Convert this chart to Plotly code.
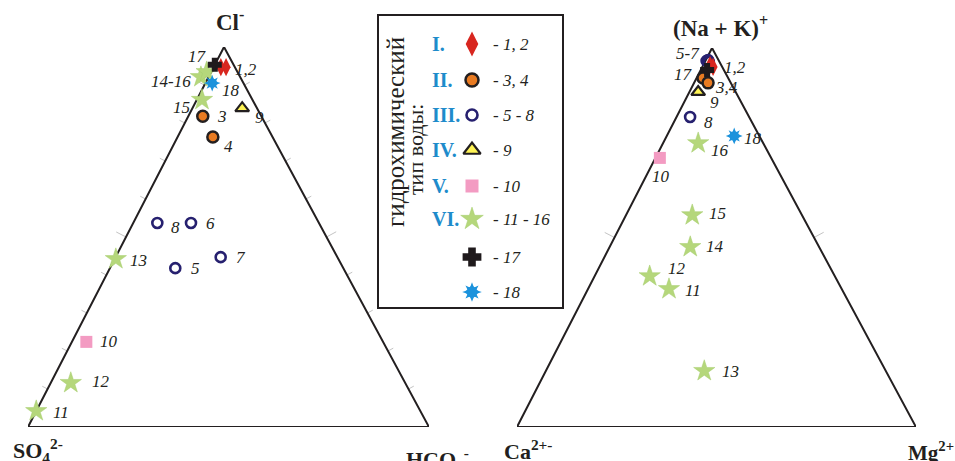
import math
import plotly.graph_objects as go

FIG_W, FIG_H = 955, 461

# ---------------- data (percent-equivalents) ----------------
sample_ids = ['1', '2', '3', '4', '5', '6', '7', '8', '9', '10',
              '11', '12', '13', '14', '15', '16', '17', '18']
sample_type = ['I', 'I', 'II', 'II', 'III', 'III', 'III', 'III', 'IV', 'V',
               'VI', 'VI', 'VI', 'VI', 'VI', 'VI', '17', '18']

# Anion triangle: Cl- (top), HCO3- (right), SO4 2- (left) = remainder
cl_pct = [94.7, 94.7, 81.8, 76.3, 41.8, 53.7, 44.7, 53.7, 83.9, 22.4,
          4.2, 11.6, 44.2, 92.1, 86.1, 93.4, 95.3, 90.5]
hco3_pct = [1.8, 3.1, 3.6, 8.8, 16.3, 14.4, 26.2, 6.0, 12.4, 3.6,
            0.0, 5.0, 0.3, -1.9, 1.3, -1.1, 0.0, 1.7]
so4_pct = [100 - a - b for a, b in zip(cl_pct, hco3_pct)]

# Cation triangle: (Na+K)+ (top), Mg2+ (right), Ca2+ (left) = remainder
nak_pct = [95.5, 95.0, 92.1, 90.8, 96.8, 96.3, 96.6, 81.8, 88.4, 71.0,
           36.4, 39.8, 14.8, 47.5, 55.9, 74.9, 94.2, 76.8]
mg_pct = [1.7, 2.7, 1.6, 3.5, 0.6, 1.0, 0.3, 3.4, 2.2, 1.1,
          20.3, 13.8, 39.7, 20.2, 16.6, 8.8, 1.6, 16.9]
ca_pct = [100 - a - b for a, b in zip(nak_pct, mg_pct)]

# legend content
type_keys = ['I', 'II', 'III', 'IV', 'V', 'VI', '17', '18']
type_numerals = ['I.', 'II.', 'III.', 'IV.', 'V.', 'VI.', '', '']
type_members = ['- 1, 2', '- 3, 4', '- 5 - 8', '- 9', '- 10', '- 11 - 16', '- 17', '- 18']
legend_title_1 = 'гидрохимический'
legend_title_2 = 'тип воды:'

# point labels: (text, sample it belongs to)
anion_labels = [('1,2', '2'), ('17', '17'), ('14-16', '14'), ('18', '18'), ('15', '15'),
                ('3', '3'), ('4', '4'), ('9', '9'), ('8', '8'), ('6', '6'), ('7', '7'),
                ('5', '5'), ('13', '13'), ('10', '10'), ('12', '12'), ('11', '11')]
cation_labels = [('5-7', '5'), ('1,2', '2'), ('17', '17'), ('3,4', '4'), ('9', '9'),
                 ('8', '8'), ('18', '18'), ('16', '16'), ('10', '10'), ('15', '15'),
                 ('14', '14'), ('12', '12'), ('11', '11'), ('13', '13')]

# ---------------- placement / style (not data) ----------------
APEX = 0.4888  # horizontal position of the top vertex, fraction of the base
TRI = {
    'a': dict(xa='x', ya='y', px0=28, px1=429, py0=427, py1=47),
    'c': dict(xa='x2', ya='y2', px0=517, px1=916, py0=427, py1=48),
}
anion_label_pos = [('left', 7, -2), ('right', -6, 8), ('right', -8, -4), ('left', 8, -7),
                   ('right', -10, -8), ('left', 12, 0), ('left', 9, -9), ('left', 11, -9),
                   ('left', 12, -5), ('left', 13, -1), ('left', 13, 0), ('left', 14, 0),
                   ('left', 12, -1), ('left', 12, 0), ('left', 19, 1), ('left', 15, -1)]
cation_label_pos = [('right', -6, 7), ('left', 9, -1), ('right', -12, -5), ('left', 5, -5),
                    ('left', 10, -11), ('left', 12, -6), ('left', 8, -3), ('left', 11, -7),
                    ('center', 1, -19), ('left', 15, 2), ('left', 14, 0), ('left', 16, 8),
                    ('left', 14, -1), ('left', 16, -1)]

INK = '#231f20'
SERIF = 'Liberation Serif, Times New Roman, serif'
STYLE = {
    'I':   dict(symbol='diamond-tall', size=13, color='#d8261f', line=dict(width=0)),
    'II':  dict(symbol='circle', size=11, color='#e97b22', line=dict(color=INK, width=2.5)),
    'III': dict(symbol='circle-open', size=10, color='#26206f', line=dict(width=2.6)),
    'IV':  dict(symbol='triangle-up', size=12, color='#fff455', line=dict(color=INK, width=2.2)),
    'V':   dict(symbol='square', size=12, color='#f39bc2', line=dict(width=0)),
    'VI':  dict(symbol='star', size=16, color='#b5d77b', line=dict(color='#a5cc6c', width=0.5)),
    '17':  dict(symbol='cross', size=10, color='#1f1a1c', line=dict(color='#1f1a1c', width=2)),
    '18':  dict(symbol='star-diamond', size=12, color='#1b92dc', line=dict(width=0)),
}
LEG_SIZE = {'I': 18, 'II': 13, 'III': 11, 'IV': 15, 'V': 13, 'VI': 17, '17': 14, '18': 14}
DRAW_ORDER = ['VI', 'V', 'IV', 'III', 'II', '18', 'I', '17']
LEG_ROW_Y = [44, 80, 115, 150, 186, 219, 257, 292]
LEG_BOX = (378, 15, 563, 308)
LEG_MARK_X, LEG_NUM_X, LEG_TXT_X = 472, 430, 491
NUMERAL_BLUE = '#1e8bcb'


def tern_xy(top, right):
    """ternary (top %, right %) -> x, y in a unit triangle axis frame"""
    xs = [(r + APEX * t) / 100.0 for t, r in zip(top, right)]
    ys = [t / 100.0 for t in top]
    return xs, ys


fig = go.Figure()


# ---------- triangle frames and ticks ----------
def add_frame(key, side_fracs):
    t = TRI[key]
    sx = t['px1'] - t['px0']
    sy = t['py0'] - t['py1']
    fx, fy = tern_xy([0, 0, 100, 0], [0, 100, 0, 0])
    tx, ty = [], []
    for f in [i / 10 for i in range(1, 10)]:
        L = 12 if abs(f - 0.5) < 1e-9 else 4
        tx += [f, f, None]
        ty += [0, -L / sy, None]
    nl = (-sy, APEX * sx)
    nr = (sy, (1 - APEX) * sx)
    for f in side_fracs:
        L = 11 if abs(f - 0.5) < 1e-9 else 6
        for (bx, n) in ((0.0, nl), (1.0, nr)):
            px = bx + (APEX - bx) * f
            m = math.hypot(*n)
            tx += [px, px + L * n[0] / m / sx, None]
            ty += [f, f + L * n[1] / m / sy, None]
    fig.add_trace(go.Scatter(x=tx, y=ty, mode='lines', xaxis=t['xa'], yaxis=t['ya'],
                             line=dict(color='#c4c4c4', width=1), hoverinfo='skip',
                             cliponaxis=False, showlegend=False))
    fig.add_trace(go.Scatter(x=fx, y=fy, mode='lines', xaxis=t['xa'], yaxis=t['ya'],
                             line=dict(color=INK, width=2), hoverinfo='skip',
                             cliponaxis=False, showlegend=False))


add_frame('a', [i / 10 for i in range(1, 10)])
add_frame('c', [0.5])


def add_points(key, top, right):
    t = TRI[key]
    xs, ys = tern_xy(top, right)
    for g in DRAW_ORDER:
        idx = [i for i, s in enumerate(sample_type) if s == g]
        gx = [xs[i] for i in idx]
        gy = [ys[i] for i in idx]
        st = STYLE[g]
        fig.add_trace(go.Scatter(x=gx, y=gy, mode='markers', xaxis=t['xa'], yaxis=t['ya'],
                                 marker=st, cliponaxis=False, showlegend=False,
                                 hovertext=[sample_ids[i] for i in idx]))
        if g == '18':
            fig.add_trace(go.Scatter(x=gx, y=gy, mode='markers', xaxis=t['xa'], yaxis=t['ya'],
                                     marker=dict(symbol='star-square', size=st['size'] * 0.85,
                                                 color=st['color'], line=dict(width=0)),
                                     cliponaxis=False, showlegend=False, hoverinfo='skip'))
    return xs, ys


ax, ay = add_points('a', cl_pct, hco3_pct)
cx, cy = add_points('c', nak_pct, mg_pct)


def add_labels(key, labels, pos, xs, ys):
    t = TRI[key]
    for (txt, sid), (anc, dx, dy) in zip(labels, pos):
        i = sample_ids.index(sid)
        fig.add_annotation(x=xs[i], y=ys[i], xref=t['xa'], yref=t['ya'],
                           text='<i>' + txt + '</i>', showarrow=False,
                           xanchor=anc, yanchor='middle', xshift=dx, yshift=dy,
                           font=dict(family=SERIF, size=17, color=INK))


add_labels('a', anion_labels, anion_label_pos, ax, ay)
add_labels('c', cation_labels, cation_label_pos, cx, cy)


# ---------- vertex titles ----------
def title(txt, px, py, size=23):
    fig.add_annotation(x=px / FIG_W, y=1 - py / FIG_H, xref='paper', yref='paper',
                       text='<b>' + txt + '</b>', showarrow=False,
                       xanchor='left', yanchor='middle',
                       font=dict(family=SERIF, size=size, color=INK))


title('Cl<sup>-</sup>', 214, 21)
title('(Na + K)<sup>+</sup>', 671, 26)
title('SO<sub>4</sub><sup>2-</sup>', 11, 450, 22)
title('HCO<sub>3</sub><sup>-</sup>', 404, 459, 22)
title('Ca<sup>2+-</sup>', 502, 450, 22)
title('Mg<sup>2+</sup>', 906, 451, 21)

# ---------- legend box ----------
fig.add_shape(type='rect', xref='x3', yref='y3', x0=LEG_BOX[0], y0=LEG_BOX[1],
              x1=LEG_BOX[2], y1=LEG_BOX[3], line=dict(color=INK, width=2),
              fillcolor='white', layer='below')
fig.add_annotation(x=395, y=132, xref='x3', yref='y3', text=legend_title_1,
                   textangle=-90, showarrow=False, xanchor='center', yanchor='middle',
                   font=dict(family=SERIF, size=25, color=INK))
fig.add_annotation(x=415, y=150, xref='x3', yref='y3', text=legend_title_2,
                   textangle=-90, showarrow=False, xanchor='center', yanchor='middle',
                   font=dict(family=SERIF, size=22, color=INK))

for k, num, mem, ry in zip(type_keys, type_numerals, type_members, LEG_ROW_Y):
    st = dict(STYLE[k])
    st['size'] = LEG_SIZE[k]
    fig.add_trace(go.Scatter(x=[LEG_MARK_X], y=[ry], mode='markers', xaxis='x3', yaxis='y3',
                             marker=st, cliponaxis=False, showlegend=False, hoverinfo='skip'))
    if k == '18':
        fig.add_trace(go.Scatter(x=[LEG_MARK_X], y=[ry], mode='markers', xaxis='x3', yaxis='y3',
                                 marker=dict(symbol='star-square', size=LEG_SIZE[k] * 0.85,
                                             color=st['color'], line=dict(width=0)),
                                 cliponaxis=False, showlegend=False, hoverinfo='skip'))
    if num:
        fig.add_annotation(x=LEG_NUM_X, y=ry, xref='x3', yref='y3', text='<b>' + num + '</b>',
                           showarrow=False, xanchor='left', yanchor='middle',
                           font=dict(family=SERIF, size=20, color=NUMERAL_BLUE))
    fig.add_annotation(x=LEG_TXT_X, y=ry, xref='x3', yref='y3', text='<i>' + mem + '</i>',
                       showarrow=False, xanchor='left', yanchor='middle',
                       font=dict(family=SERIF, size=17, color=INK))

fig.update_layout(
    width=FIG_W, height=FIG_H, margin=dict(l=0, r=0, t=0, b=0),
    paper_bgcolor='white', plot_bgcolor='rgba(0,0,0,0)', showlegend=False,
    xaxis=dict(domain=[28 / FIG_W, 429 / FIG_W], range=[0, 1], visible=False, anchor='y'),
    yaxis=dict(domain=[34 / FIG_H, 414 / FIG_H], range=[0, 1], visible=False, anchor='x'),
    xaxis2=dict(domain=[517 / FIG_W, 916 / FIG_W], range=[0, 1], visible=False, anchor='y2'),
    yaxis2=dict(domain=[34 / FIG_H, 413 / FIG_H], range=[0, 1], visible=False, anchor='x2'),
    xaxis3=dict(domain=[0, 1], range=[0, FIG_W], visible=False, anchor='y3'),
    yaxis3=dict(domain=[0, 1], range=[FIG_H, 0], visible=False, anchor='x3'),
)

fig.write_html('out.html', config={'displayModeBar': False},
               post_script="document.body.style.margin='0';")
